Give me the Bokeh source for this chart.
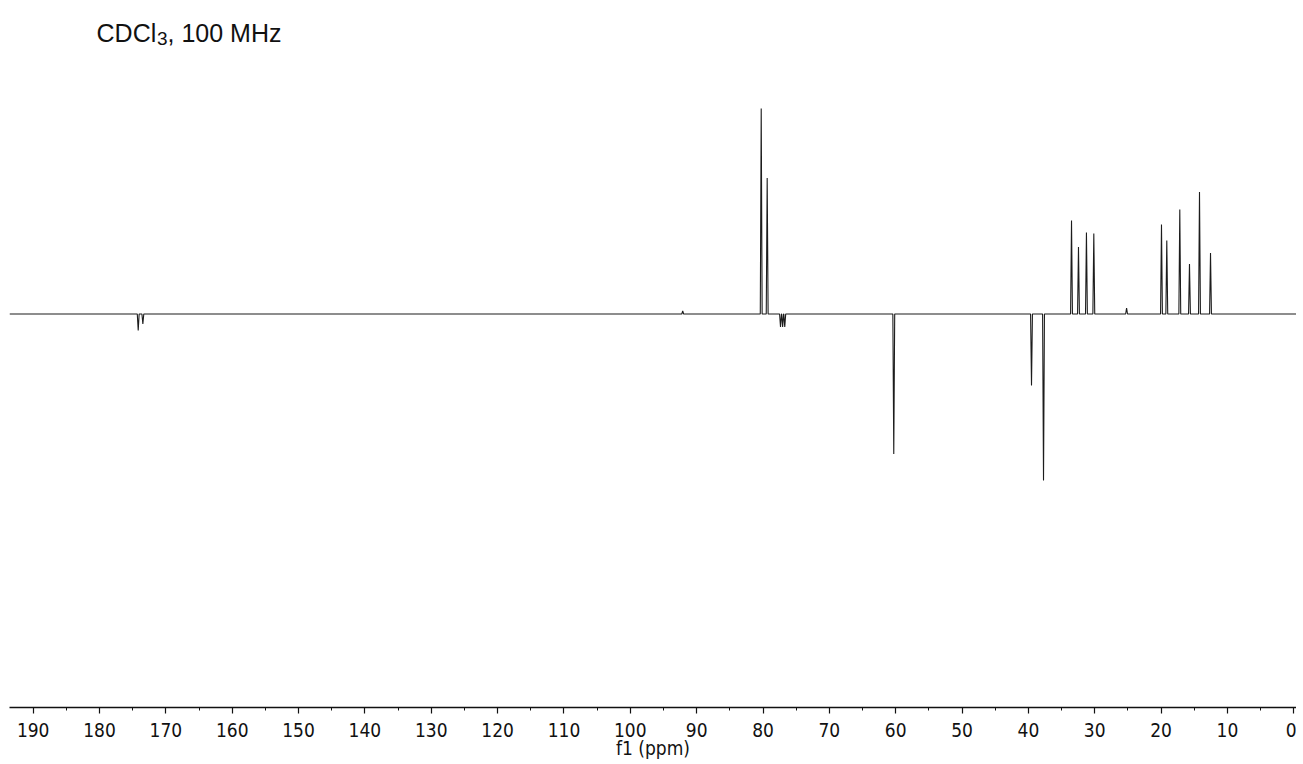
from bokeh.plotting import figure
from bokeh.models import Range1d, FixedTicker, Label
from bokeh.embed import file_html
from bokeh.resources import INLINE

# 13C DEPT-135 spectrum: peak positions (ppm) and signed intensities (arb. units)
peak_ppm = [174.17, 173.47, 92.1, 80.27, 79.37, 77.36, 77.04, 76.72,
            60.29, 39.53, 37.72, 33.5, 32.45, 31.25, 30.14, 25.2,
            19.94, 19.14, 17.18, 15.72, 14.21, 12.55]
peak_int = [-16.5, -10, 3, 205.5, 136, -13, -13, -13,
            -140, -71.5, -166.5, 93.5, 67, 81.5, 80.5, 6,
            89.5, 73.5, 104.5, 50, 122, 61]

major_ticks = list(range(0, 200, 10))
minor_ticks = list(range(5, 195, 10))
tick_labels = {t: str(t) for t in major_ticks}

ppm_left, ppm_right = 193.57, -0.41
int_low, int_high = -393.5, 313.5
half_width = 0.14

# assemble the trace: flat baseline with a narrow line for every resonance
order = sorted(range(len(peak_ppm)), key=lambda i: -peak_ppm[i])
xs = [ppm_left]
ys = [0.0]
for i in order:
    c = peak_ppm[i]
    xs += [c + half_width, c, c - half_width]
    ys += [0.0, peak_int[i], 0.0]
xs.append(ppm_right)
ys.append(0.0)

p = figure(frame_width=1287, frame_height=707,
           x_range=Range1d(ppm_left, ppm_right),
           y_range=Range1d(int_low, int_high),
           y_axis_location=None, toolbar_location=None,
           output_backend="svg",
           min_border_left=9, min_border_right=0,
           min_border_top=0, min_border_bottom=0)
p.outline_line_color = None
p.xgrid.visible = False
p.ygrid.visible = False
p.background_fill_color = "white"
p.border_fill_color = "white"

p.line(xs, ys, line_color="#1c1c1c", line_width=1.1)

ax = p.xaxis[0]
ax.ticker = FixedTicker(ticks=major_ticks, minor_ticks=minor_ticks)
ax.major_label_overrides = tick_labels
ax.axis_label = "f1 (ppm)"
ax.axis_line_color = "#111111"
ax.axis_line_width = 1.4
ax.major_tick_line_color = "#111111"
ax.minor_tick_line_color = "#111111"
ax.major_tick_line_width = 1.2
ax.minor_tick_line_width = 1.0
ax.major_tick_out = 6
ax.major_tick_in = 0
ax.minor_tick_out = 3
ax.minor_tick_in = 0
ax.major_label_standoff = 9
ax.axis_label_standoff = -3
ax.major_label_text_font = "DejaVu Sans Condensed"
ax.major_label_text_font_size = "19px"
ax.major_label_text_color = "#111111"
ax.axis_label_text_font = "DejaVu Sans Condensed"
ax.axis_label_text_font_size = "19px"
ax.axis_label_text_font_style = "normal"
ax.axis_label_text_color = "#111111"

# sample annotation: solvent and spectrometer frequency
px_per_ppm = 6.635
zero_px = 1293.3 - 9


def ppm_at(px):
    return (zero_px - (px - 9)) / px_per_ppm


def int_at(py):
    return 313.5 - py


p.add_layout(Label(x=ppm_at(96), y=int_at(32), text="CDCl",
                   text_font="Liberation Sans", text_font_size="25px",
                   text_color="#111111", text_baseline="alphabetic"))
p.add_layout(Label(x=ppm_at(156.5), y=int_at(37.5), text="3",
                   text_font="Liberation Sans", text_font_size="19px",
                   text_color="#111111", text_baseline="alphabetic"))
p.add_layout(Label(x=ppm_at(167), y=int_at(32), text=", 100 MHz",
                   text_font="Liberation Sans", text_font_size="25px",
                   text_color="#111111", text_baseline="alphabetic"))

open("out.html", "w").write(file_html(p, INLINE))
